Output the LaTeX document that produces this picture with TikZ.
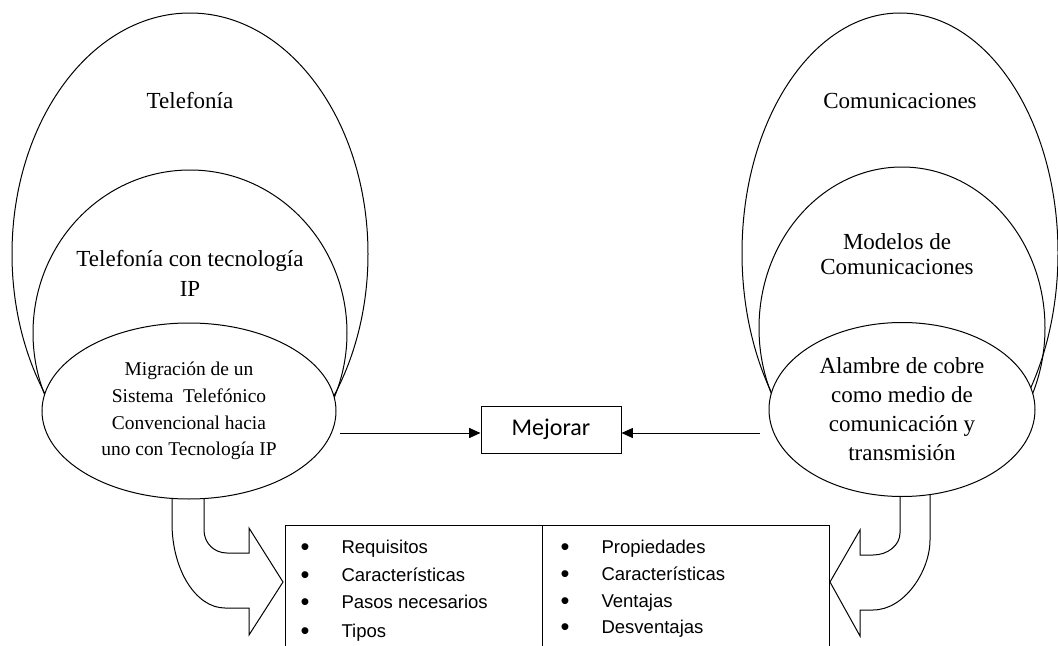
\documentclass[tikz,border=0pt]{standalone}
\usepackage{fontspec}
\setmainfont{Liberation Serif}
\newfontfamily\arialfont{Liberation Sans}
\newfontfamily\calibrifont{Carlito}
\usetikzlibrary{shapes.geometric,arrows.meta}

\begin{document}
\begin{tikzpicture}[x=0.75pt,y=-0.75pt,line width=0.75pt,
  big/.style={align=center,inner sep=0pt,font=\fontsize{17.25}{22.5}\selectfont},
  core/.style={draw,fill=white,ellipse,inner sep=0pt,align=center},
  item/.style={anchor=base west,inner sep=0pt,font=\arialfont\fontsize{13.9}{16}\selectfont},
  dot/.style={anchor=base,inner sep=0pt,font=\arialfont\fontsize{19}{20}\selectfont},
  tip/.style={-{Triangle[length=8.5pt,width=7.5pt]}}
]
\useasboundingbox (0,0) rectangle (1058,646);

% telefonia
\draw (190,254) ellipse [x radius=178, y radius=241];
\draw (190,333) ellipse [x radius=157, y radius=163];
\node[core,minimum width=220.5pt,minimum height=132pt,font=\fontsize{14.6}{20}\selectfont] (migra) at (189,411)
  {Migración de un\\Sistema\ \ Telefónico\\Convencional hacia\\uno con Tecnología IP};
\node[big] (telef) at (190,101) {Telefonía};
\node[big] (telip) at (190,273) {Telefonía con tecnología\\IP};

% comunicaciones
\draw (900,253) ellipse [x radius=158, y radius=240];
\draw (902,328) ellipse [x radius=143, y radius=161];
\node[core,minimum width=199.5pt,minimum height=130.5pt,font=\fontsize{17.25}{21.75}\selectfont] (alambre) at (902,409.5)
  {Alambre de cobre\\como medio de\\comunicación y\\transmisión};
\node[big] (comun) at (900,101) {Comunicaciones};
\node[big,font=\fontsize{17.25}{19}\selectfont] (modelos) at (897,254) {Modelos de\\Comunicaciones};

% mejorar
\node[draw,minimum width=105pt,minimum height=35.25pt,font=\calibrifont\fontsize{18}{20}\selectfont] (mejorar) at (551,429.5) {Mejorar};
\coordinate (fromL) at (340,433);
\coordinate (fromR) at (760,433);
\draw[tip] (fromL) -- (fromL -| mejorar.west);
\draw[tip] (fromR) -- (fromR -| mejorar.east);

% curved block arrows
\draw (172,498) -- (172,523) .. controls (172,570) and (196,608) .. (225,608) -- (249,608)
  -- (249,635) -- (283,582) -- (249,528) -- (249,553) -- (227,553)
  .. controls (214,553) and (204,543) .. (204,530) -- (204,498);
\draw (900,496) -- (900,533) .. controls (900,545) and (888,555) .. (873,555) -- (860,555)
  -- (860,530) -- (830,582) -- (860,636) -- (860,610) -- (873,610)
  .. controls (904.5,610) and (930,571) .. (930,540) -- (930,495);

% lista
\draw (285,660) |- (829,525) -- (829,660);
\draw (542,525) -- (542,660);
\foreach \t/\y in {Requisitos/553,Características/581,Pasos necesarios/608,Tipos/637}{
  \node[dot] at (305,\y+2) {•};
  \node[item] at (341,\y) {\t};
}
\foreach \t/\y in {Propiedades/553,Características/580,Ventajas/607,Desventajas/633}{
  \node[dot] at (565,\y+2) {•};
  \node[item] at (601,\y) {\t};
}
\end{tikzpicture}
\end{document}
